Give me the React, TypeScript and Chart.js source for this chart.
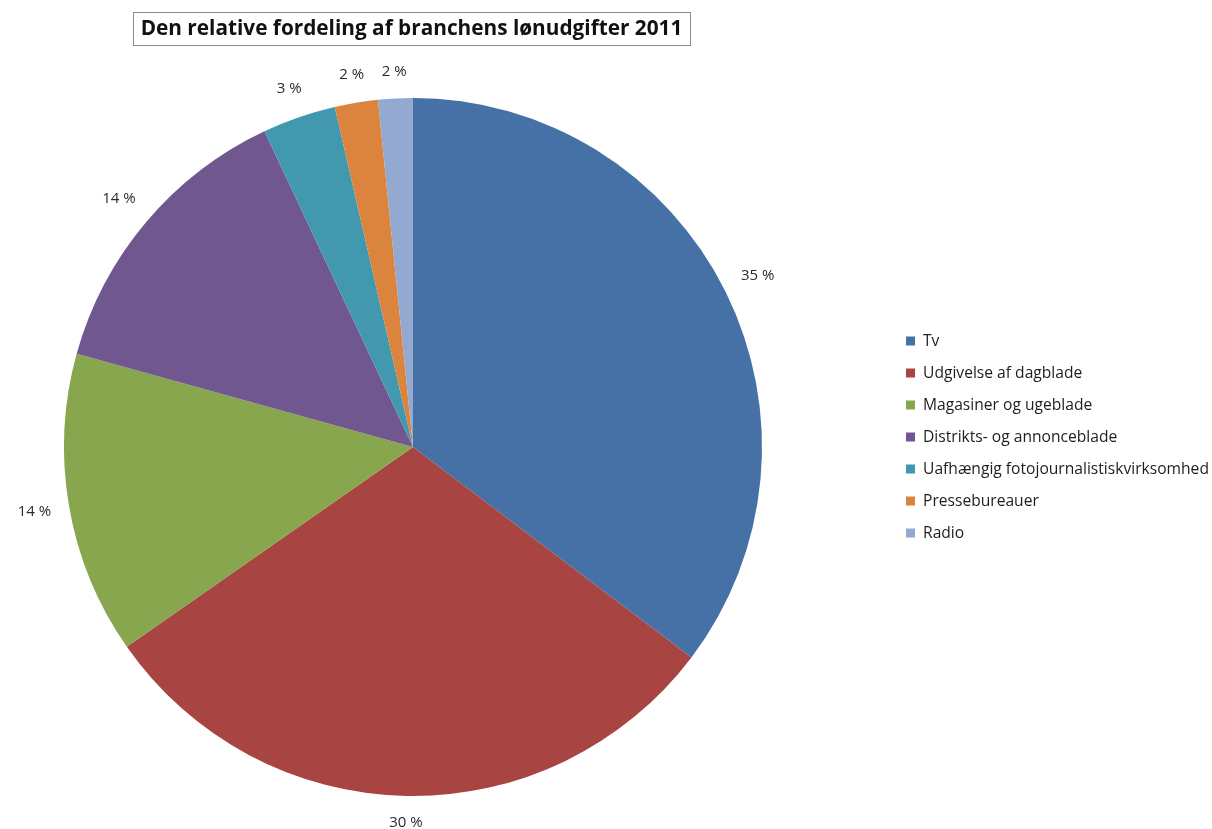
import React, { useEffect, useRef } from "react";
import { Chart, registerables } from "chart.js";

Chart.register(...registerables);

const titleText = "Den relative fordeling af branchens lønudgifter 2011";
const categories = [
  "Tv",
  "Udgivelse af dagblade",
  "Magasiner og ugeblade",
  "Distrikts- og annonceblade",
  "Uafhængig fotojournalistiskvirksomhed",
  "Pressebureauer",
  "Radio",
];
const values = [35.3, 30.0, 14.0, 13.7, 3.4, 2.0, 1.6];
const colors = ["#4571a6", "#a84542", "#88a64d", "#71578f", "#4198af", "#db843d", "#93a9d0"];

const FONT = "'Open Sans', 'Noto Sans', sans-serif";

const overlayPlugin = {
  id: "overlay",
  afterDraw(chart: any) {
    const ctx = chart.ctx as CanvasRenderingContext2D;
    const meta = chart.getDatasetMeta(0);
    const data = chart.data.datasets[0].data as number[];
    const total = data.reduce((a, b) => a + b, 0);
    ctx.save();

    // Title box
    const bx = 133, by = 12, bw = 557, bh = 33;
    ctx.fillStyle = "#ffffff";
    ctx.fillRect(bx, by, bw, bh);
    ctx.strokeStyle = "#8c8c8c";
    ctx.lineWidth = 1;
    ctx.strokeRect(bx + 0.5, by + 0.5, bw, bh);
    let ts = 20;
    ctx.font = `bold ${ts}px ${FONT}`;
    const tw = ctx.measureText(titleText).width;
    ts = ts * 542 / tw;
    ctx.font = `bold ${ts}px ${FONT}`;
    ctx.fillStyle = "#111111";
    ctx.textAlign = "center";
    ctx.textBaseline = "middle";
    ctx.fillText(titleText, bx + bw / 2, by + bh / 2 + 1);

    // Data labels
    ctx.font = `15px ${FONT}`;
    ctx.fillStyle = "#2b2b2b";
    meta.data.forEach((arc: any, i: number) => {
      const { x, y, startAngle, endAngle, outerRadius } = arc.getProps(
        ["x", "y", "startAngle", "endAngle", "outerRadius"], true);
      const mid = (startAngle + endAngle) / 2;
      const label = Math.round((data[i] / total) * 100) + " %";
      const hw = ctx.measureText(label).width / 2;
      const hh = 9;
      const c = Math.cos(mid), s = Math.sin(mid);
      const r = outerRadius + 17 + Math.abs(c) * hw + Math.abs(s) * hh;
      ctx.fillText(label, x + c * r, y + s * r);
    });

    // Legend
    ctx.font = `14px ${FONT}`;
    ctx.textAlign = "left";
    ctx.textBaseline = "middle";
    const longest = ctx.measureText(categories[4]).width;
    const ls = 14 * 286 / longest;
    ctx.font = `${ls}px ${FONT}`;
    chart.data.labels.forEach((lab: string, i: number) => {
      const yy = 341 + i * 32;
      ctx.fillStyle = colors[i];
      ctx.fillRect(906, yy - 4.5, 9, 9);
      ctx.fillStyle = "#1e1e1e";
      ctx.fillText(lab, 923, yy + 1);
    });
    ctx.restore();
  },
};

export default function App() {
  const ref = useRef<HTMLCanvasElement | null>(null);
  useEffect(() => {
    document.body.style.margin = "0";
    if (!ref.current) return;
    const chart = new Chart(ref.current, {
      type: "pie",
      data: {
        labels: categories,
        datasets: [
          {
            data: values,
            backgroundColor: colors,
            borderWidth: 0,
          },
        ],
      },
      options: {
        responsive: false,
        animation: false,
        layout: { padding: { left: 64, right: 450, top: 98, bottom: 33 } },
        plugins: {
          legend: { display: false },
          title: { display: false },
          tooltip: { enabled: false },
        },
      },
      plugins: [overlayPlugin],
    });
    return () => chart.destroy();
  }, []);
  return (
    <div style={{ width: 1212, height: 829, background: "#fff" }}>
      <canvas ref={ref} width={1212} height={829} style={{ display: "block" }} />
    </div>
  );
}
